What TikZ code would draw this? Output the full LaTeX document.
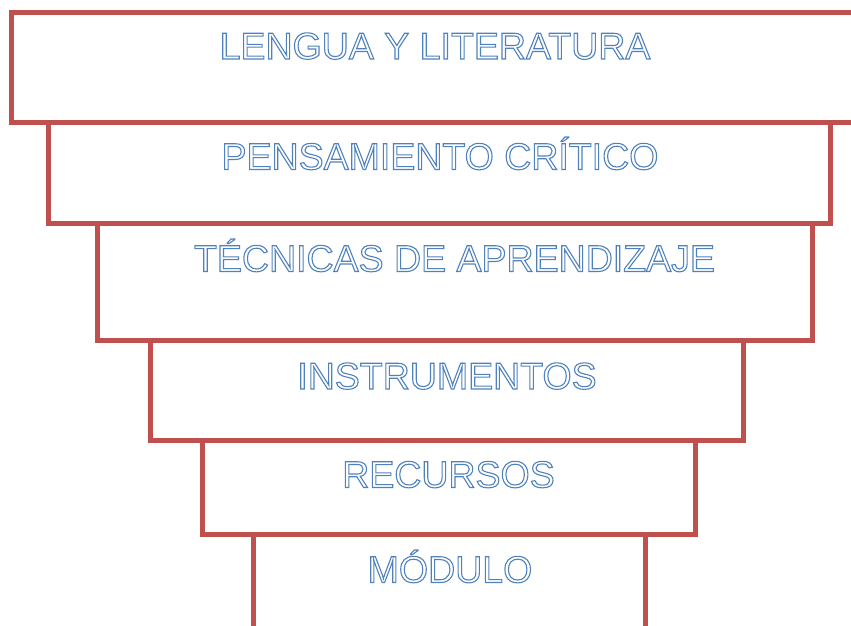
\documentclass[tikz,border=0pt]{standalone}
\usepackage{fontspec}
\setmainfont{Liberation Sans}
\usepackage{xcolor}
\usepackage{tikz}

\definecolor{tierred}{RGB}{192,80,77}
\definecolor{tierblue}{RGB}{79,129,189}
% hollow letters: stroke the glyphs only
\newcommand{\hollow}[1]{\special{pdf:literal direct 1 Tr 1.1 w}#1\special{pdf:literal direct 0 Tr}}

\begin{document}
\begin{tikzpicture}[x=1pt, y=-1pt,
  tier/.style={tierred, line width=5pt},
  tiertext/.style={font=\fontsize{37.5}{45}\selectfont, text=tierblue, anchor=base, inner sep=0pt}]
  \useasboundingbox (0,0) rectangle (851,625);
  \clip (0,0) rectangle (851,625);
  \draw[tier] (11,12) rectangle (855,122);
  \draw[tier] (48,122.5) rectangle (830,223);
  \draw[tier] (97,223) rectangle (812.5,340.5);
  \draw[tier] (150,340.5) rectangle (743.5,440);
  \draw[tier] (202.5,440) rectangle (695,534.5);
  \draw[tier] (253.5,534.5) rectangle (645,640);
  \node[tiertext] (lengua) at (435,59) {\hollow{LENGUA Y LITERATURA}};
  \node[tiertext] (pensamiento) at (440,169.5) {\hollow{PENSAMIENTO CRÍTICO}};
  \node[tiertext] (tecnicas) at (454.5,271.5) {\hollow{TÉCNICAS DE APRENDIZAJE}};
  \node[tiertext] (instrumentos) at (447,389) {\hollow{INSTRUMENTOS}};
  \node[tiertext] (recursos) at (448.5,487.5) {\hollow{RECURSOS}};
  \node[tiertext] (modulo) at (450,582.5) {\hollow{MÓDULO}};
\end{tikzpicture}
\end{document}
